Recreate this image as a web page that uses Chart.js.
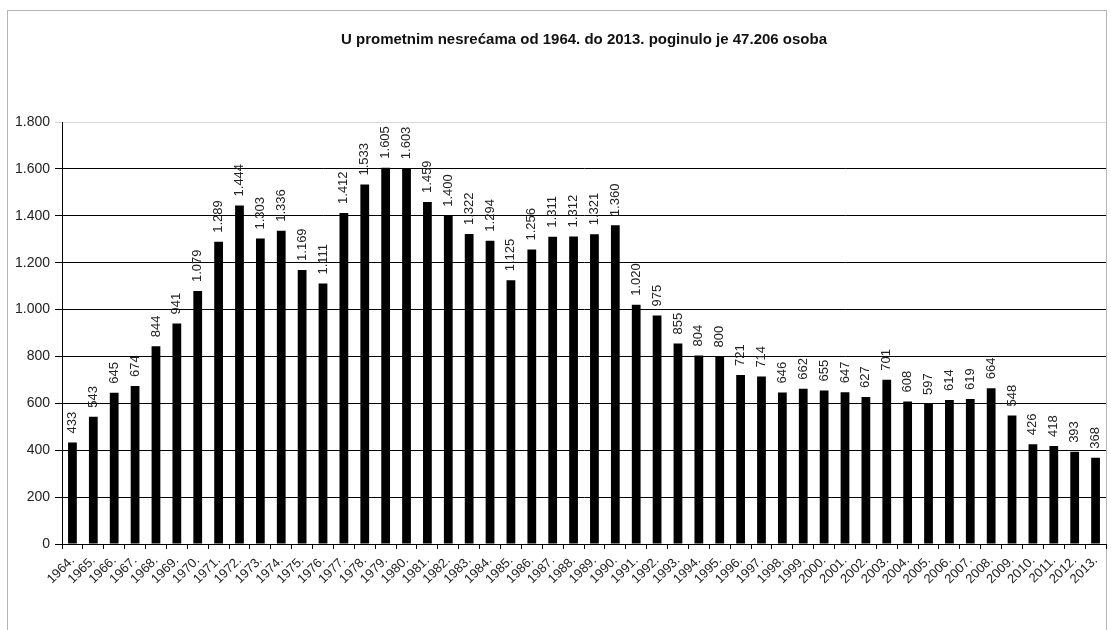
<!DOCTYPE html>
<html>
<head>
<meta charset="utf-8">
<script src="https://cdn.jsdelivr.net/npm/chart.js@4/dist/chart.umd.min.js"></script>
<style>
    body { margin: 0; background: #fff; }
    #wrap { position: relative; width: 1111px; height: 630px; overflow: hidden; }
    #frame { position: absolute; left: 7px; top: 10px; width: 1100px; height: 700px; border: 1px solid #b5b5b5; box-sizing: border-box; }
    canvas { position: absolute; left: 0; top: 0; }
</style>
</head>
<body>
<div id="wrap">
    <div id="frame"></div>
    <canvas id="chart" width="1111" height="630"></canvas>
</div>
<script>
// godine
const years = [
    '1964.', '1965.', '1966.', '1967.', '1968.', '1969.', '1970.', '1971.', '1972.', '1973.',
    '1974.', '1975.', '1976.', '1977.', '1978.', '1979.', '1980.', '1981.', '1982.', '1983.',
    '1984.', '1985.', '1986.', '1987.', '1988.', '1989.', '1990.', '1991.', '1992.', '1993.',
    '1994.', '1995.', '1996.', '1997.', '1998.', '1999.', '2000.', '2001.', '2002.', '2003.',
    '2004.', '2005.', '2006.', '2007.', '2008.', '2009.', '2010.', '2011.', '2012.', '2013.'
];

// broj poginulih
const killed = [
    433, 543, 645, 674, 844, 941, 1079, 1289, 1444, 1303,
    1336, 1169, 1111, 1412, 1533, 1605, 1603, 1459, 1400, 1322,
    1294, 1125, 1256, 1311, 1312, 1321, 1360, 1020, 975, 855,
    804, 800, 721, 714, 646, 662, 655, 647, 627, 701,
    608, 597, 614, 619, 664, 548, 426, 418, 393, 368
];

const yTicks = [0, 200, 400, 600, 800, 1000, 1200, 1400, 1600, 1800];

const titleText = 'U prometnim nesrećama od 1964. do 2013. poginulo je 47.206 osoba';

// tisuće s točkom
function fmt(n) {
    return String(n).replace(/\B(?=(\d{3})+(?!\d))/g, '.');
}

// oznake iznad stupaca, okrenute okomito
const valueLabels = {
    id: 'valueLabels',
    afterDatasetsDraw(chart) {
        const ctx = chart.ctx;
        const meta = chart.getDatasetMeta(0);
        ctx.save();
        ctx.font = '13px "Liberation Sans", Arial, sans-serif';
        ctx.fillStyle = '#222';
        ctx.textAlign = 'left';
        ctx.textBaseline = 'middle';
        meta.data.forEach((bar, i) => {
            ctx.save();
            ctx.translate(bar.x, bar.y - 9);
            ctx.rotate(-Math.PI / 2);
            ctx.fillText(fmt(killed[i]), 0, 0);
            ctx.restore();
        });
        ctx.restore();
    }
};

new Chart(document.getElementById('chart'), {
    type: 'bar',
    data: {
        labels: years,
        datasets: [{
            data: killed,
            backgroundColor: '#000',
            borderWidth: 0,
            barPercentage: 0.42,
            categoryPercentage: 1
        }]
    },
    options: {
        responsive: false,
        animation: false,
        layout: { padding: { left: 0, right: 5, top: 0, bottom: 0 } },
        plugins: {
            legend: { display: false },
            tooltip: { enabled: false },
            title: {
                display: true,
                fullSize: false,
                text: titleText,
                color: '#111',
                font: { family: '"Liberation Sans", Arial, sans-serif', size: 15, weight: 'bold' },
                padding: { top: 31, bottom: 73 }
            }
        },
        scales: {
            x: {
                afterFit: s => { s.height = 86; },
                grid: {
                    display: true,
                    drawOnChartArea: false,
                    offset: true,
                    color: '#000',
                    tickLength: 5
                },
                border: { color: '#000', width: 1 },
                ticks: {
                    color: '#222',
                    font: { family: '"Liberation Sans", Arial, sans-serif', size: 13 },
                    minRotation: 45,
                    maxRotation: 45,
                    autoSkip: false,
                    padding: 4
                }
            },
            y: {
                min: 0,
                max: 1800,
                afterFit: s => { s.width = 62; },
                afterBuildTicks: s => { s.ticks = yTicks.map(v => ({ value: v })); },
                grid: {
                    color: c => (c.tick && c.tick.value === 1800 ? '#d8d8d8' : '#000'),
                    lineWidth: 1,
                    tickLength: 7,
                    drawTicks: true
                },
                border: { color: '#000', width: 1 },
                ticks: {
                    color: '#222',
                    font: { family: '"Liberation Sans", Arial, sans-serif', size: 14 },
                    padding: 5,
                    callback: v => fmt(v)
                }
            }
        }
    },
    plugins: [valueLabels]
});
</script>
</body>
</html>
